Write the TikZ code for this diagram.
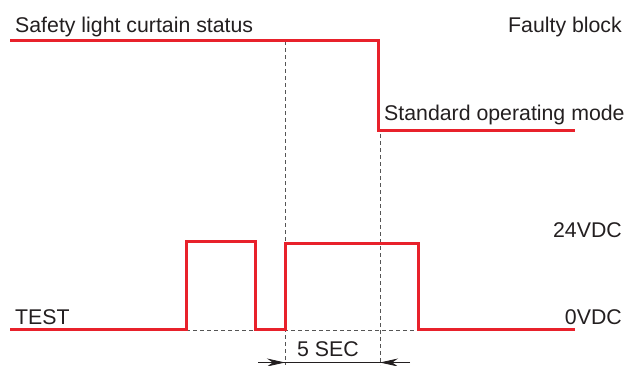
\documentclass[tikz,border=0pt]{standalone}
\usepackage{fontspec}
\setmainfont{Liberation Sans}
\usetikzlibrary{arrows.meta}
\definecolor{sigred}{HTML}{E8212B}
\definecolor{txt}{HTML}{231F20}
\definecolor{guide}{HTML}{555555}
\tikzset{
  signal/.style={draw=sigred, line width=3pt, line join=miter},
  guideline/.style={draw=guide, line width=0.8pt, dash pattern=on 4pt off 3pt},
  label/.style={text=txt, font=\fontsize{21.3}{25}\selectfont, inner sep=0pt},
  dim/.style={draw=txt, line width=0.8pt},
}
\begin{document}
\begin{tikzpicture}[x=1pt,y=-1pt]
\useasboundingbox (0,0) rectangle (627,365);
% labels
\node[label, anchor=base west] (status) at (15,32) {Safety light curtain status};
\node[label, anchor=base east] (faulty) at (622,32) {Faulty block};
\node[label, anchor=base west] (std) at (384,120.5) {Standard operating mode};
\node[label, anchor=base east] (v24) at (622,237) {24VDC};
\node[label, anchor=base east] (v0) at (622,324) {0VDC};
\node[label, anchor=base west] (test) at (15,324) {TEST};
\node[label, anchor=base] (sec) at (328,356) {5 SEC};
% guide lines
\draw[guideline] (285,41) -- (285,365);
\draw[guideline] (380,134) -- (380,365);
\draw[guideline] (186,330) -- (575,330);
% status signal
\draw[signal] (10,40) -- (378,40) -- (378,130) -- (575,130);
% test signal
\draw[signal] (10,329) -- (186,329) -- (186,241) -- (255,241) -- (255,329)
  -- (285,329) -- (285,243) -- (418,243) -- (418,329) -- (575,329);
% dimension
\coordinate (dl) at (258,362.5);
\coordinate (dr) at (410,362.5);
\coordinate (tl) at (285,362.5);
\coordinate (tr) at (380,362.5);
\draw[dim] (dl) -- (dr);
\draw[dim, -{Stealth[length=18pt,width=8pt]}] (dl) -- (tl);
\draw[dim, -{Stealth[length=18pt,width=8pt]}] (dr) -- (tr);
\end{tikzpicture}
\end{document}
